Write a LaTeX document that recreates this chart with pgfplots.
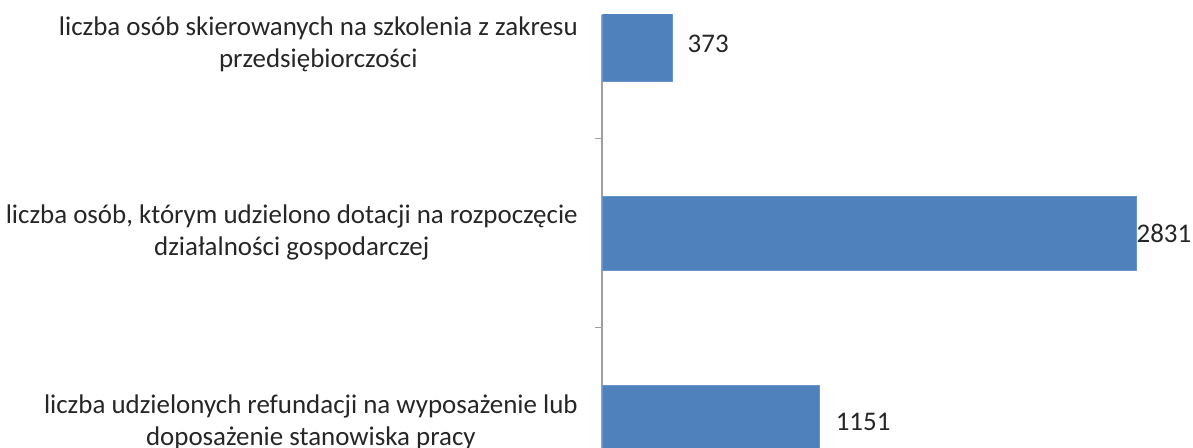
\documentclass[border=0pt]{standalone}
\usepackage{fontspec}
\setmainfont{Carlito}
\usepackage{pgfplots}
\pgfplotsset{compat=1.18}
\definecolor{barblue}{HTML}{4F81BD}
\definecolor{axgray}{HTML}{A0A0A0}
\begin{document}
\begin{tikzpicture}
\useasboundingbox (0pt,0pt) rectangle (894.75pt,336pt);
\begin{axis}[
  at={(451.5pt,0pt)}, anchor=south west,
  scale only axis,
  width=443.25pt, height=324.75pt,
  xbar, bar shift=0pt, bar width=0.3915,
  xmin=0, xmax=3133.5,
  ymin=-0.1376, ymax=2.153,
  axis x line=none,
  axis y line*=left,
  y axis line style={axgray, line width=0.9pt, -},
  ytick={0,1,2},
  yticklabels={{liczba udzielonych refundacji na wyposażenie lub\\doposażenie stanowiska pracy},
               {liczba osób, którym udzielono dotacji na rozpoczęcie\\działalności gospodarczej},
               {liczba osób skierowanych na szkolenia z zakresu\\przedsiębiorczości}},
  yticklabel style={align=center, font=\fontsize{20.2pt}{24pt}\selectfont, text=black!85, inner sep=0pt, xshift=-18pt},
  major tick length=0pt,
  minor ytick={0.5,1.5,2.5},
  minor tick length=5.25pt,
  tick align=outside,
  every minor tick/.style={axgray, line width=0.9pt},
  clip=true,
  /pgf/number format/.cd, 1000 sep={}, assume math mode=true,
]
\addplot[fill=barblue, draw=barblue!85!white, nodes near coords,
  every node near coord/.style={anchor=west, xshift=9pt, font=\fontsize{20.2pt}{24pt}\selectfont, text=black!85}]
  coordinates {(1151,0)};
\addplot[fill=barblue, draw=barblue!85!white, nodes near coords,
  every node near coord/.style={anchor=west, xshift=-3pt, font=\fontsize{20.2pt}{24pt}\selectfont, text=black!85}]
  coordinates {(2831,1)};
\addplot[fill=barblue, draw=barblue!85!white, nodes near coords,
  every node near coord/.style={anchor=west, xshift=8pt, font=\fontsize{20.2pt}{24pt}\selectfont, text=black!85}]
  coordinates {(373,2)};
\end{axis}
\end{tikzpicture}
\end{document}
